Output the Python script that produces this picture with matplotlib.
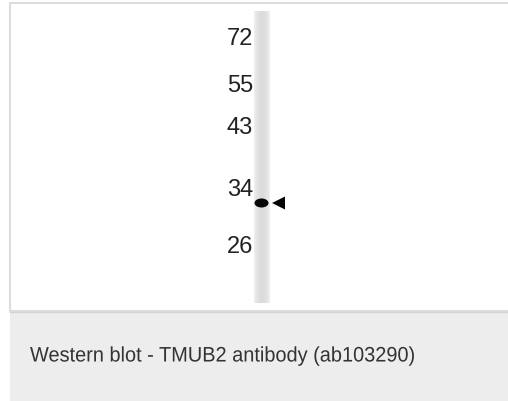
import matplotlib.pyplot as plt
import numpy as np
from matplotlib.font_manager import FontProperties
from matplotlib.patches import Ellipse, PathPatch, Polygon, Rectangle
from matplotlib.text import TextPath
from matplotlib.transforms import Affine2D

# marker ladder (kDa) and how far each ran down the blot (px from top of panel)
ladder_kda = [72, 55, 43, 34, 26]
ladder_pos = [39, 86.5, 128, 190, 247]
# detected TMUB2 band
band_pos = [203]
caption = "Western blot - TMUB2 antibody (ab103290)"

W, H = 508, 401
fig = plt.figure(figsize=(W / 100, H / 100), dpi=100)
ax = fig.add_axes([0, 0, 1, 1])
ax.set_xlim(0, W)
ax.set_ylim(H, 0)
ax.axis('off')

# panel + caption box
ax.add_patch(Rectangle((10, 3), W, 308, facecolor='white', edgecolor='#dcdcdc', lw=1.5))
ax.add_patch(Rectangle((10, 312), W, 100, facecolor='#ecedec', edgecolor='none'))
ax.plot([10, W], [311.5, 311.5], color='#d4d4d4', lw=1)

# lane, slightly darker in the middle
lane_x0, lane_x1, lane_y0, lane_y1 = 254, 270, 11, 303
xs = np.linspace(-1, 1, 40)
prof = 0.86 + 0.08 * xs ** 2
lane = np.tile(prof, (60, 1))
ax.imshow(lane, cmap='gray', vmin=0, vmax=1, aspect='auto',
          extent=[lane_x0, lane_x1, lane_y1, lane_y0], interpolation='bilinear', zorder=2)

for kda, y in zip(ladder_kda, ladder_pos):
    ax.text(253, y, str(kda), ha='right', va='center', fontsize=17,
            family='Liberation Sans', color='#222222', zorder=3)

for y in band_pos:
    ax.add_patch(Ellipse((261.5, y), 14, 9, facecolor='#050505', edgecolor='none', zorder=3))
    ax.add_patch(Polygon([[272, y], [285, y - 6.5], [285, y + 6.5]], closed=True,
                         facecolor='#050505', edgecolor='none', zorder=3))

# caption drawn a little condensed, like the original
tp = TextPath((0, 0), caption, size=21, prop=FontProperties(family='Liberation Sans'))
tp = tp.transformed(Affine2D().scale(0.95, -1).translate(30, 361.5))
ax.add_patch(PathPatch(tp, facecolor='#333333', edgecolor='none', lw=0))

fig.savefig('out.png', dpi=100)
